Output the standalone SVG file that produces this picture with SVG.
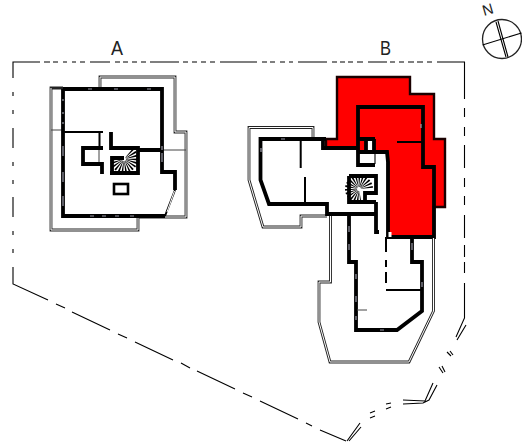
<svg xmlns="http://www.w3.org/2000/svg" width="522" height="442" viewBox="0 0 522 442">
<style>
.w{fill:none;stroke:#000;stroke-width:3.8;stroke-linejoin:miter}
.m{fill:none;stroke:#000;stroke-width:2}
.t{fill:none;stroke:#222;stroke-width:2.8}
.ti{fill:none;stroke:#fff;stroke-width:1}
.h{fill:none;stroke:#444;stroke-width:1}
.s{fill:none;stroke:#000;stroke-width:1.1}
.f{fill:none;stroke:#000;stroke-width:12;stroke-dasharray:1.1 1.1}
.g{fill:none;stroke:#9a9aa8;stroke-width:1.2}
text{font-family:"Liberation Sans",Arial,sans-serif;font-size:21px;fill:#222}
</style>
<rect width="522" height="442" fill="#fff"/>
<g id="site">
<path class="s" d="M13 78V62H40M44 62H50M53 62H58M63 62H67M72 62H76M80 62H85M90 62H110M115 62H120M123 62H128M132 62H137M141 62H146M150 62H179M183 62H188M192 62H197M201 62H206M210 62H215M220 62H257M262 62H267M270 62H275M280 62H285M289 62H293M298 62H327M332 62H337M340 62H345M348 62H353M357 62H363M368 62H387M390 62H395M399 62H404M408 62H414M417 62H423M427 62H432M437 62H464.5V99"/>
<path class="s" stroke="#333" d="M464.5 108V117M464.5 127V136M464.5 145V168M464.5 178V187M464.5 196V205M464.5 215V238M464.5 245V257M464.5 262V273M464.5 283V318L456 337M466 325L457 340"/>
<path class="s" d="M13 92V96M13 110V114M13 128V148M13 162V166M13 180V184M13 197V217M13 231V235M13 249V253M13 267V284L48 300M56 304L65 308M72 312L110 330M118 334L127 338M135 342L173 360M181 363L190 368M197 371L235 389M243 393L252 397M260 401L298 419M306 423L312 426M320 430L346 441"/>
<path class="s" d="M447 352L451 356M450 351L453 355M439 367L443 373M442 366L445 372"/>
<path class="s" d="M433 383L425 401L403 400M437 385L429 400L423 403L403 404"/>
<path class="s" d="M391 403L386 404M391 407L386 409M375 411L370 413M375 416L370 418"/>
<path class="s" d="M347 441L360 423M349 441L361 427"/>
</g>
<g id="building-a">
<path class="t" d="M100 88V77H175V132H186V217H138V230H51V88H63"/>
<path class="ti" d="M100 88V77H175V132H186V217H138V230H51V88"/>
<path class="h" d="M51 130H63M162 150H186M99 148V164"/>
<path class="w" d="M63 89H162V172H175V190M165 216H63V89"/>
<path class="m" stroke-width="4" d="M175 190L165 216"/>
<path class="ti" stroke-width="1.4" d="M174.500 191L167 212"/>
<path class="m" d="M63 132H103M99.500 132V148"/>
<path class="w" d="M103 148H83V164H102V174M111 132V148H138V173H110M112 173V158H124M138 150H162"/>
<path class="f" d="M129.100 152.900A8 8 0 1 1 116 159.700"/>
<rect x="114" y="184" width="14" height="10" fill="none" stroke="#000" stroke-width="2.600"/>
<path class="g" d="M63 99V101M63 112V114M63 122V124M63 146V156M63 172V182M63 196V206M90 216H94M102 216H106M115 216H119M130 216H134M88 89H92M114 89H118M147 89H151M162 146V150M162 153V162"/>
</g>
<g id="building-b">
<path fill="#f00" stroke="#1a0000" stroke-width="2.400" d="M337 77H410V94H434V139H445V207H434V237H388V162L387 152H358V148H326V139H337Z"/>
<rect x="367" y="140" width="8" height="12" fill="#fff"/>
<path class="t" d="M313 139V127.500H249V180L263 227H301V216H327"/>
<path class="ti" d="M313 139V127.500H249V180L263 227H301V216H327"/>
<path class="w" d="M326 139H260.500V180L269 204H327V214H350M349 176H376V193H365V201M349 176V202H376M350 214H376M376 202V232H379"/>
<path class="w" d="M323 139V148H358V165H375M358 148V107H423V167H434V237H388V162L387 152H358M357 139H375M366 139V152M374 139V152"/>
<path class="m" d="M397 142H423M300.700 139V168M305 177V203"/>
<path class="s" d="M375 152V164"/>
<path class="f" d="M367 188.300A8 8 0 1 0 360.400 196.900"/>
<path class="t" d="M330.500 216V282H319V322L330 362H409L433.500 311V238"/>
<path class="ti" d="M330.500 216V282H319V322L330 362H409L433.500 311V238"/>
<path class="w" d="M349 214V262H356V330H397L422 311V262H412V238"/>
<path class="m" d="M386 290H421"/>
<path class="m" d="M386 237V252M386 260V267M386 272V283"/>
<path class="h" d="M357 310H367"/>
<rect x="388.500" y="232" width="3" height="5" fill="#fff"/>
<path class="g" d="M261 148V152M281 139H285M349 226V232M349 244V250M356 274V279M356 296V302M356 316V320M412 243V250M422 282V287M380 330H384M421 124V128"/>
</g>
<g id="labels">
<text x="111" y="55" textLength="12" lengthAdjust="spacingAndGlyphs">A</text>
<text x="380" y="55" textLength="11" lengthAdjust="spacingAndGlyphs">B</text>
<text transform="translate(484 16) rotate(-16)" style="font-size:15px">N</text>
</g>
<g id="north">
<circle cx="502" cy="39" r="19.500" fill="none" stroke="#222" stroke-width="1.300"/>
<path class="s" d="M482.500 45L521.500 33M496 22L506 57M498 21L508 57"/>
</g>
</svg>
